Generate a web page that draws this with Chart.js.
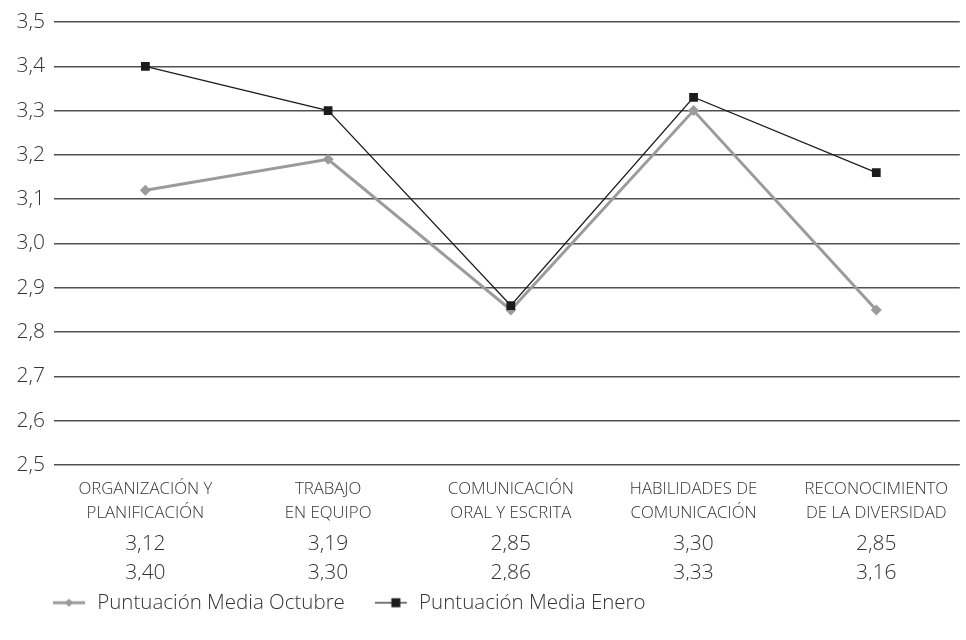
<!DOCTYPE html>
<html><head><meta charset="utf-8">
<script src="https://cdn.jsdelivr.net/npm/chart.js@4.4.1/dist/chart.umd.min.js"></script>
<style>html,body{margin:0;padding:0;background:#fff;}canvas{display:block;}</style>
</head><body>
<canvas id="c" width="966" height="640"></canvas>
<script>
const categories = [
  ["ORGANIZACIÓN Y", "PLANIFICACIÓN"],
  ["TRABAJO", "EN EQUIPO"],
  ["COMUNICACIÓN", "ORAL Y ESCRITA"],
  ["HABILIDADES DE", "COMUNICACIÓN"],
  ["RECONOCIMIENTO", "DE LA DIVERSIDAD"]
];
const seriesNames = ["Puntuación Media Octubre", "Puntuación Media Enero"];
const octubre = [3.12, 3.19, 2.85, 3.30, 2.85];
const enero = [3.40, 3.30, 2.86, 3.33, 3.16];
const yMin = 2.5, yMax = 3.5, yStep = 0.1;

const FONT = "'Open Sans', 'Liberation Sans', sans-serif";
const TXT = '#333333';
const GRAY = '#9b9b9b';
const BLACK = '#1c1c1c';

function fmt(v, d) { return v.toFixed(d).replace('.', ','); }

function legendIcon(kind) {
  const c = document.createElement('canvas');
  c.width = 52; c.height = 14;
  const g = c.getContext('2d');
  g.strokeStyle = kind === 0 ? GRAY : BLACK;
  g.lineWidth = kind === 0 ? 3 : 1.2;
  g.beginPath(); g.moveTo(18, 7); g.lineTo(50, 7); g.stroke();
  g.fillStyle = kind === 0 ? GRAY : BLACK;
  if (kind === 0) {
    g.beginPath(); g.moveTo(34, 3); g.lineTo(38.5, 7); g.lineTo(34, 11); g.lineTo(29.5, 7); g.closePath(); g.fill();
  } else {
    g.fillRect(34.5, 2.5, 9, 9);
  }
  return c;
}
const icons = [legendIcon(0), legendIcon(1)];

const idx = categories.map((_, i) => i);
const xMin = -0.5, xMax = 4.457;

const legendShift = {
  id: 'legendShift',
  afterLayout(chart) { if (chart.legend) { chart.legend.left += 23; } }
};

new Chart(document.getElementById('c'), {
  type: 'line',
  plugins: [legendShift],
  data: {
    datasets: [
      {
        label: seriesNames[0],
        data: octubre.map((v, i) => ({x: i, y: v})),
        borderColor: GRAY, backgroundColor: GRAY, borderWidth: 3,
        pointStyle: 'rectRot', pointRadius: 5.5, pointBorderWidth: 0,
        pointBackgroundColor: GRAY, tension: 0, order: 1
      },
      {
        label: seriesNames[1],
        data: enero.map((v, i) => ({x: i, y: v})),
        borderColor: BLACK, backgroundColor: BLACK, borderWidth: 1.2,
        pointStyle: 'rect', pointRadius: 6.2, pointBorderWidth: 0,
        pointBackgroundColor: BLACK, tension: 0, order: 0
      }
    ]
  },
  options: {
    responsive: false,
    animation: false,
    layout: { padding: { left: 0, right: 0, top: 22, bottom: 17 } },
    plugins: {
      tooltip: { enabled: false },
      legend: {
        position: 'bottom', align: 'start',
        labels: {
          usePointStyle: true, pointStyleWidth: 52, padding: 12,
          color: TXT, font: { family: FONT, size: 20.5, weight: '300' },
          sort: (a, b) => a.datasetIndex - b.datasetIndex,
          generateLabels: (chart) => chart.data.datasets.map((ds, i) => ({
            text: ds.label, datasetIndex: i, pointStyle: icons[i],
            fillStyle: 'transparent', strokeStyle: 'transparent', lineWidth: 0,
            fontColor: TXT, hidden: false
          }))
        }
      }
    },
    scales: {
      y: {
        type: 'linear', min: yMin, max: yMax,
        ticks: {
          stepSize: yStep, padding: 9, color: TXT,
          font: { family: FONT, size: 21, weight: '300' },
          callback: (v) => fmt(v, 1)
        },
        grid: { color: '#505050', lineWidth: 1.5, drawTicks: false },
        border: { display: false },
        afterFit: (s) => { s.width = 54; }
      },
      x: {
        type: 'linear', position: 'bottom', min: xMin, max: xMax, bounds: 'data',
        afterBuildTicks: (s) => { s.ticks = idx.map(v => ({ value: v })); },
        ticks: {
          autoSkip: false, maxRotation: 0, padding: 12, color: TXT,
          font: { family: FONT, size: 16.8, weight: '300', lineHeight: 1.43 },
          callback: (v) => categories[v]
        },
        grid: { display: false, drawTicks: false },
        border: { display: false },
        afterFit: (s) => { s.height = 62; }
      },
      x2: {
        type: 'linear', position: 'bottom', min: xMin, max: xMax, bounds: 'data',
        afterBuildTicks: (s) => { s.ticks = idx.map(v => ({ value: v })); },
        ticks: {
          autoSkip: false, maxRotation: 0, padding: 2.5, color: TXT,
          font: { family: FONT, size: 21, weight: '300', lineHeight: 1.38 },
          callback: (v) => [fmt(octubre[v], 2), fmt(enero[v], 2)]
        },
        grid: { display: false, drawTicks: false },
        border: { display: false },
        afterFit: (s) => { s.height = 53.5; }
      }
    }
  }
});
</script>
</body></html>
